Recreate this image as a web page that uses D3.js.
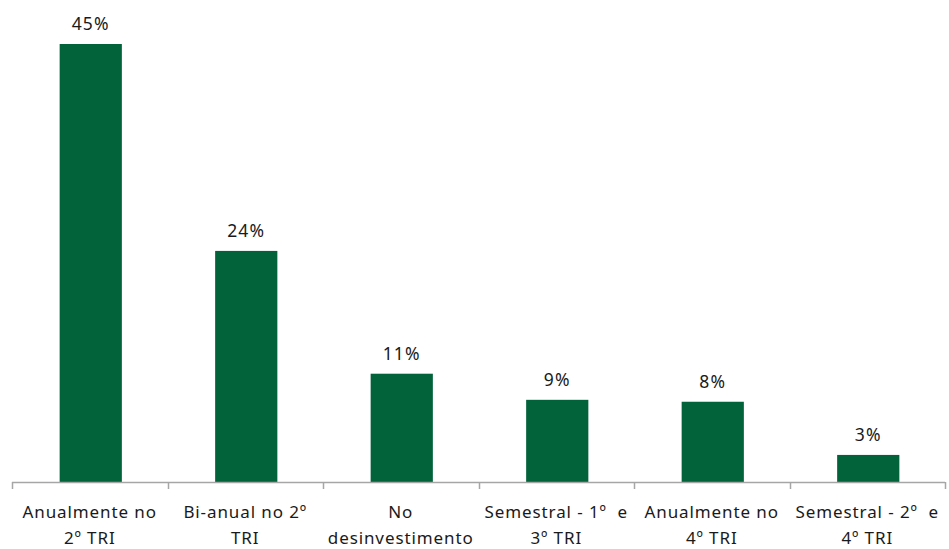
<!DOCTYPE html>
<html>
<head>
<meta charset="utf-8">
<script src="https://cdn.jsdelivr.net/npm/d3@7/dist/d3.min.js"></script>
<style>
  html, body { margin: 0; padding: 0; background: #fff; }
  svg { display: block; }
</style>
</head>
<body>
<svg id="chart" width="949" height="549"></svg>
<script>
'use strict';

// category labels, split into the two lines shown under the axis
var CATEGORIES = [
  ['Anualmente no', '2º TRI'],
  ['Bi-anual no 2º', 'TRI'],
  ['No', 'desinvestimento'],
  ['Semestral - 1º  e', '3º TRI'],
  ['Anualmente no', '4º TRI'],
  ['Semestral - 2º  e', '4º TRI']
];
// share of answers, in percent
var VALUES = [45.3, 23.9, 11.2, 8.5, 8.3, 2.8];

(function draw() {
  var svg = d3.select('#chart');
  var green = '#02623a';
  var axisGrey = '#a6a6a6';
  var font = '"Noto Sans", "Open Sans", sans-serif';

  var keys = CATEGORIES.map(function (c, i) { return i; });
  var x = d3.scaleBand().domain(keys).range([12, 945]).padding(0);
  var y = d3.scaleLinear().domain([0, 45.3]).range([482, 44]);
  var barW = x.bandwidth() * 0.4;

  svg.selectAll('rect.bar')
    .data(VALUES)
    .enter().append('rect')
    .attr('class', 'bar')
    .attr('x', function (d, i) { return x(i) + (x.bandwidth() - barW) / 2 + 1; })
    .attr('y', function (d) { return y(d); })
    .attr('width', barW)
    .attr('height', function (d) { return y(0) - y(d); })
    .style('fill', green);

  svg.selectAll('text.value')
    .data(VALUES)
    .enter().append('text')
    .attr('class', 'value')
    .attr('x', function (d, i) { return x(i) + x.bandwidth() / 2 + 1; })
    .attr('y', function (d) { return y(d) - 14; })
    .attr('text-anchor', 'middle')
    .style('font-family', font)
    .style('font-size', '17.5px')
    .style('letter-spacing', '1.2px')
    .style('fill', '#1a1a1a')
    .text(function (d) { return Math.round(d) + '%'; });

  // axis line with ticks between categories
  var axis = svg.append('g');
  axis.append('line')
    .attr('x1', x.range()[0]).attr('x2', x.range()[1])
    .attr('y1', y(0) + 0.5).attr('y2', y(0) + 0.5)
    .style('stroke', axisGrey).style('stroke-width', 1.5);
  var edges = keys.map(function (k) { return x(k); }).concat([x.range()[1]]);
  axis.selectAll('line.tick')
    .data(edges)
    .enter().append('line')
    .attr('class', 'tick')
    .attr('x1', function (d) { return Math.round(d) + 0.5; })
    .attr('x2', function (d) { return Math.round(d) + 0.5; })
    .attr('y1', y(0)).attr('y2', y(0) + 7)
    .style('stroke', axisGrey).style('stroke-width', 1.5);

  var labels = svg.selectAll('text.cat')
    .data(CATEGORIES)
    .enter().append('text')
    .attr('class', 'cat')
    .attr('text-anchor', 'middle')
    .style('font-family', font)
    .style('font-size', '17px')
    .style('letter-spacing', '0.9px')
    .style('fill', '#1a1a1a');
  labels.each(function (lines, i) {
    var t = d3.select(this);
    lines.forEach(function (line, j) {
      t.append('tspan')
        .attr('x', x(i) + x.bandwidth() / 2)
        .attr('y', 518 + j * 26)
        .style('white-space', 'pre')
        .text(line);
    });
  });
}());
</script>
</body>
</html>
